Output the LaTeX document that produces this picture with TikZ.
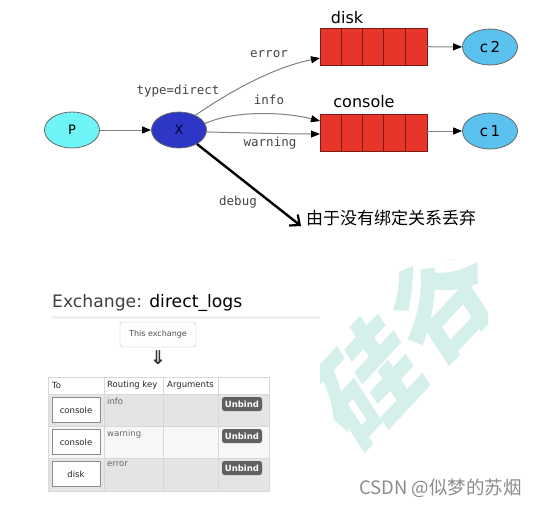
\documentclass[tikz,border=0pt]{standalone}
\usepackage{fontspec}
\setmainfont{DejaVu Sans}
\newfontfamily\cjk{Noto Sans CJK SC}
\newfontfamily\monof{DejaVu Sans Mono}
\usetikzlibrary{arrows.meta,shapes.geometric,calc}
\definecolor{qred}{HTML}{E8352A}
\definecolor{qborder}{HTML}{7A1A12}
\definecolor{pcyan}{HTML}{6EF4F6}
\definecolor{xblue}{HTML}{2E36C6}
\definecolor{cblue}{HTML}{5BC2EF}
\definecolor{edgegray}{HTML}{808080}
\definecolor{lbl}{HTML}{444444}
\definecolor{rowdark}{HTML}{E4E4E4}
\definecolor{rowlight}{HTML}{F7F7F7}
\definecolor{tline}{HTML}{D8D8D8}
\definecolor{wm}{HTML}{D5EFEA}
\tikzset{
  ell/.style={ellipse, draw=black!60, line width=0.8pt, minimum width=55pt, minimum height=36pt, inner sep=0pt, font=\fontsize{13}{13}\selectfont},
  queue/.style={rectangle, draw=qborder, fill=qred, line width=0.8pt, minimum width=107pt, minimum height=37pt, inner sep=0pt},
  edge/.style={draw=edgegray, line width=1pt, -{Triangle[length=9pt,width=7pt,color=black]}},
  elabel/.style={text=lbl, font=\monof\fontsize{12.5}{12.5}\selectfont},
  qlabel/.style={text=black, font=\fontsize{16}{16}\selectfont},
  hdr/.style={anchor=west, text=black!85, font=\fontsize{8.5}{8.5}\selectfont, inner sep=0pt},
  rkey/.style={anchor=north west, text=black!60, font=\fontsize{8.5}{8.5}\selectfont, inner sep=0pt},
  tobox/.style={draw=black!45, fill=white, line width=0.8pt, minimum width=48pt, minimum height=25pt, inner sep=0pt, text=black!85, font=\fontsize{8.5}{8.5}\selectfont},
  unbind/.style={fill=black!62, rounded corners=2.5pt, minimum width=40pt, minimum height=14pt, inner sep=0pt, text=white, font=\bfseries\fontsize{8.5}{8.5}\selectfont},
  wmark/.style={rotate=47, xslant=0.25, inner sep=0pt, text=wm, font=\cjk\bfseries\fontsize{108}{108}\selectfont}
}
\begin{document}
\begin{tikzpicture}[x=1pt,y=-1pt]
\useasboundingbox (0,0) rectangle (539,507);
\fill[white] (0,0) rectangle (539,507);
% watermark
\begin{scope}
\clip (320,259) rectangle (487,507);
\node[wmark] (wm1) at (368,380) {硅};
\node[wmark] (wm2) at (442,300) {谷};
\end{scope}
% top diagram
\node[ell, fill=pcyan] (P) at (72,130) {P};
\node[ell, fill=xblue, text=black!80!blue] (X) at (179,130) {X};
\node[queue] (disk) at (373.5,46.5) {};
\node[queue] (console) at (373.5,132.5) {};
\foreach \q in {disk,console}{
  \foreach \i in {1,2,3,4}{
    \draw[qborder, line width=0.8pt] ($(\q.north west)+(21.4*\i,0)$) -- ($(\q.south west)+(21.4*\i,0)$);
  }
}
\node[qlabel] (disklbl) at (347,18) {disk};
\node[qlabel] (conslbl) at (364,102) {console};
\node[ell, fill=cblue, font=\fontsize{15}{15}\selectfont] (C2) at (490,47) {c\,2};
\node[ell, fill=cblue, font=\fontsize{15}{15}\selectfont] (C1) at (490,131) {c\,1};
\coordinate (dIn) at (320,58);
\coordinate (cIn1) at (320,121);
\coordinate (cIn2) at (320,134);
\draw[edge] (P) -- (X);
\draw[edge] (disk) -- (C2);
\draw[edge] (console.east |- C1) -- (C1);
\draw[edge] (X.42) .. controls (225,95) and (270,68) .. (dIn);
\draw[edge] (X.14) .. controls (235,110) and (285,112) .. (cIn1);
\draw[edge] (X.-4) .. controls (250,133) and (290,134) .. (cIn2);
\coordinate (dropEnd) at (301,226);
\draw[black, line width=2.4pt, -{Straight Barb[length=8pt,width=14pt,line width=2.2pt]}] (X.-38) -- (dropEnd);
\node[elabel] (ltype) at (178,91) {type=direct};
\node[elabel] (lerr) at (269,54) {error};
\node[elabel] (linfo) at (269,100) {info};
\node[elabel] (lwarn) at (270,143) {warning};
\node[elabel] (ldebug) at (238,202) {debug};
\node[anchor=west, inner sep=0pt, font=\cjk\fontsize{17}{17}\selectfont] (drop) at (306,218) {由于没有绑定关系丢弃};
% lower part
\node[anchor=west, inner sep=0pt, font=\fontsize{17.2}{17.2}\selectfont] (title) at (52,303) {\textcolor{black!75}{Exchange:} direct\_logs};
\draw[black!6, line width=3pt] (52,317) -- (320,317);
\node[draw=black!25, rounded corners=3pt, minimum width=76pt, minimum height=25pt, inner sep=0pt, text=black!70, font=\fontsize{8}{8}\selectfont] (thisx) at (158,334.5) {This exchange};
\node[font=\bfseries\fontsize{19}{19}\selectfont, inner sep=0pt, text=black!80] (darr) at (158,358) {⇓};
% table
\fill[white] (48,377) rectangle (269,394);
\fill[rowdark] (48,394) rectangle (269,426);
\fill[rowlight] (48,426) rectangle (269,458);
\fill[rowdark] (48,458) rectangle (269,491);
\draw[tline, line width=0.8pt] (48,377) rectangle (269,491);
\foreach \yy in {394,426,458}{ \draw[tline, line width=0.8pt] (48,\yy) -- (269,\yy); }
\foreach \xx in {104,163,218}{ \draw[tline, line width=0.8pt] (\xx,377) -- (\xx,491); }
\node[hdr] (hTo) at (52,385.5) {To};
\node[hdr] (hRk) at (107,385.5) {Routing key};
\node[hdr] (hArg) at (167,385.5) {Arguments};
\node[tobox] (to1) at (76,410) {console};
\node[tobox] (to2) at (76,442) {console};
\node[tobox] (to3) at (76,474) {disk};
\node[rkey] (rk1) at (107,398) {info};
\node[rkey] (rk2) at (107,430) {warning};
\node[rkey] (rk3) at (107,462) {error};
\node[unbind] (ub1) at (242,404) {Unbind};
\node[unbind] (ub2) at (242,436) {Unbind};
\node[unbind] (ub3) at (242,468) {Unbind};
% csdn
\node[anchor=east, inner sep=0pt, text=black!45, font=\cjk\fontsize{18.5}{18.5}\selectfont] (csdn) at (522,488) {CSDN @似梦的苏烟};
\end{tikzpicture}
\end{document}
